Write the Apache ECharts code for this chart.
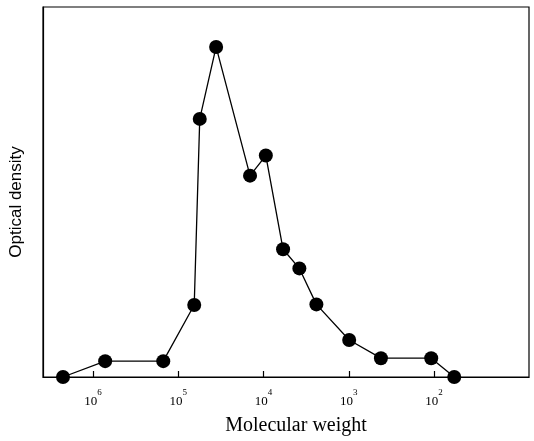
<!DOCTYPE html>
<html>
<head>
<meta charset="utf-8">
<script src="https://cdn.jsdelivr.net/npm/echarts@6/dist/echarts.min.js"></script>
<style>
html,body{margin:0;padding:0;background:#fff;}
#chart{width:534px;height:441px;}
</style>
</head>
<body>
<div id="chart"></div>
<script>
// Molecular weight of each fraction (x, log scale, decreasing to the right)
var molWeight = [2.25e6, 7.2e5, 1.5e5, 6.5e4, 5.6e4, 3.6e4, 1.44e4, 9.4e3, 5.9e3, 3.8e3, 2.4e3, 990, 420, 108, 58];
// Optical density (arbitrary units)
var density = [0, 0.048, 0.048, 0.218, 0.782, 1.0, 0.61, 0.671, 0.387, 0.329, 0.22, 0.112, 0.057, 0.057, 0];
// Tick positions on the x axis
var tickValues = [1e6, 1e5, 1e4, 1e3, 1e2];

var points = molWeight.map(function (m, i) { return [m, density[i]]; });

var chart = echarts.init(document.getElementById('chart'), null, {renderer: 'canvas'});
chart.setOption({
  animation: false,
  backgroundColor: '#fff',
  grid: {
    left: 43, right: 5, top: 7, bottom: 63,
    show: true, borderColor: '#000', borderWidth: 1.2, backgroundColor: 'transparent'
  },
  xAxis: {
    type: 'log',
    logBase: 10,
    inverse: true,
    min: 7.7,
    max: 3.86e6,
    name: 'Molecular weight',
    nameLocation: 'middle',
    nameGap: 39,
    nameTextStyle: {fontFamily: 'Liberation Serif', fontSize: 20, color: '#000', padding: [0, 0, 0, 20]},
    axisLine: {show: true, lineStyle: {color: '#000', width: 1.2}},
    axisTick: {show: true, inside: true, length: 6, customValues: tickValues, lineStyle: {color: '#000', width: 1.2}},
    axisLabel: {
      show: true,
      customValues: tickValues,
      margin: 11,
      formatter: function (v) {
        var e = Math.round(Math.log10(v));
        return '{b|10}{s|' + e + '}';
      },
      rich: {
        b: {fontFamily: 'Liberation Serif', fontSize: 13, color: '#000', lineHeight: 20, verticalAlign: 'bottom'},
        s: {fontFamily: 'Liberation Serif', fontSize: 9, color: '#000', lineHeight: 9, verticalAlign: 'top'}
      }
    },
    splitLine: {show: false},
    minorTick: {show: false}
  },
  yAxis: {
    type: 'value',
    min: 0,
    max: 1.121,
    name: 'Optical density',
    nameLocation: 'middle',
    nameGap: 18,
    nameTextStyle: {fontFamily: 'Liberation Sans', fontSize: 17, color: '#000', padding: [0, 20, 0, 0]},
    axisLine: {show: true, lineStyle: {color: '#000', width: 1.2}},
    axisTick: {show: false},
    axisLabel: {show: false},
    splitLine: {show: false}
  },
  series: [{
    type: 'line',
    data: points,
    symbol: 'circle',
    symbolSize: 14,
    showAllSymbol: true,
    clip: false,
    lineStyle: {color: '#000', width: 1.3},
    itemStyle: {color: '#000', borderColor: '#000', borderWidth: 0}
  }]
});
</script>
</body>
</html>
